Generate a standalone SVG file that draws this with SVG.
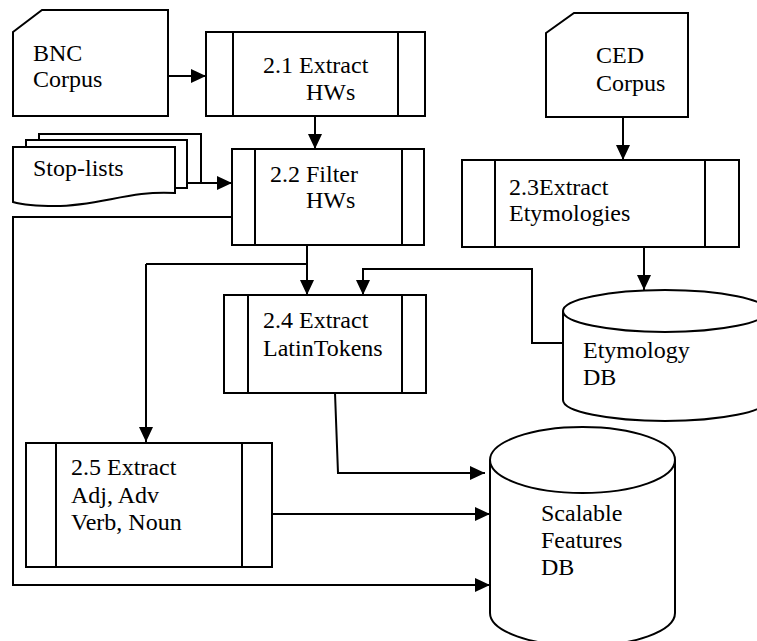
<svg xmlns="http://www.w3.org/2000/svg" width="757" height="641" viewBox="0 0 757 641">
<defs>
<marker id="arr" markerUnits="userSpaceOnUse" markerWidth="15" markerHeight="14" refX="15" refY="7" orient="auto">
<path d="M0,0 L15,7 L0,14 Z" fill="#000"/>
</marker>
<style>
.s{fill:#fff;stroke:#000;stroke-width:2}
.l{fill:none;stroke:#000;stroke-width:2}
.c{fill:none;stroke:#000;stroke-width:2;marker-end:url(#arr)}
</style>
</defs>
<rect width="757" height="641" fill="#fff"/>
<g id="connectors">
<path class="c" d="M168,76 H206"/>
<path class="c" d="M315,116 V149"/>
<path class="c" d="M201,183 H232"/>
<path class="c" d="M623,117 V160"/>
<path class="c" d="M644,247 V290"/>
<path class="c" d="M307,245 V295"/>
<path class="l" d="M307,264 H146"/>
<path class="c" d="M146,264 V442"/>
<path class="c" d="M563,343 H532 V269 H363 V295"/>
<path class="c" d="M335,393 L338,473 H485"/>
<path class="c" d="M272,514 H490"/>
<path class="c" d="M232,217 H13 V585 H490"/>
</g>
<g font-family="Liberation Serif, DejaVu Serif, Times New Roman, serif" font-size="24" fill="#000">
<g id="bnc">
<path class="s" d="M13,32 L42,10 H168 V116 H13 Z"/>
<text x="33" y="61">BNC</text>
<text x="33" y="87">Corpus</text>
</g>
<g id="p21">
<rect class="s" x="206" y="32" width="219" height="84"/>
<path class="l" d="M233,32 V116 M398,32 V116"/>
<text x="263" y="73">2.1 Extract</text>
<text x="306" y="100">HWs</text>
</g>
<g id="stoplists">
<path class="s" d="M39,147 V134 H201 V183 H187"/>
<path class="s" d="M26,147 V140 H187 V188 H175"/>
<path class="s" d="M13,147 H175 V193 C130,190 100,206 55,206 C35,206 20,204 13,202 Z"/>
<text x="33" y="176">Stop-lists</text>
</g>
<g id="p22">
<rect class="s" x="232" y="149" width="192" height="96"/>
<path class="l" d="M255,149 V245 M402,149 V245"/>
<text x="270" y="182">2.2 Filter</text>
<text x="306" y="208">HWs</text>
</g>
<g id="ced">
<path class="s" d="M546,33 L574,13 H688 V117 H546 Z"/>
<text x="596" y="63">CED</text>
<text x="596" y="91">Corpus</text>
</g>
<g id="p23">
<rect class="s" x="462" y="160" width="277" height="87"/>
<path class="l" d="M495,160 V247 M705,160 V247"/>
<text x="509" y="195">2.3Extract</text>
<text x="509" y="221">Etymologies</text>
</g>
<g id="etydb">
<path class="s" d="M563,311 V400 A102,21 0 0 0 767,400 V311"/>
<ellipse class="s" cx="665" cy="311" rx="102" ry="21"/>
<text x="583" y="358">Etymology</text>
<text x="583" y="385">DB</text>
</g>
<g id="p24">
<rect class="s" x="224" y="295" width="202" height="98"/>
<path class="l" d="M248,295 V393 M402,295 V393"/>
<text x="263" y="328">2.4 Extract</text>
<text x="263" y="356">LatinTokens</text>
</g>
<g id="p25">
<rect class="s" x="26" y="443" width="246" height="124"/>
<path class="l" d="M56,443 V567 M242,443 V567"/>
<text x="71" y="475">2.5 Extract</text>
<text x="71" y="503">Adj, Adv</text>
<text x="71" y="530">Verb, Noun</text>
</g>
<g id="sfdb">
<path class="s" d="M490,460 V613 A92.5,33 0 0 0 675,613 V460"/>
<ellipse class="s" cx="582.5" cy="460" rx="92.5" ry="33"/>
<text x="541" y="521">Scalable</text>
<text x="541" y="548">Features</text>
<text x="541" y="575">DB</text>
</g>
</g>
</svg>
